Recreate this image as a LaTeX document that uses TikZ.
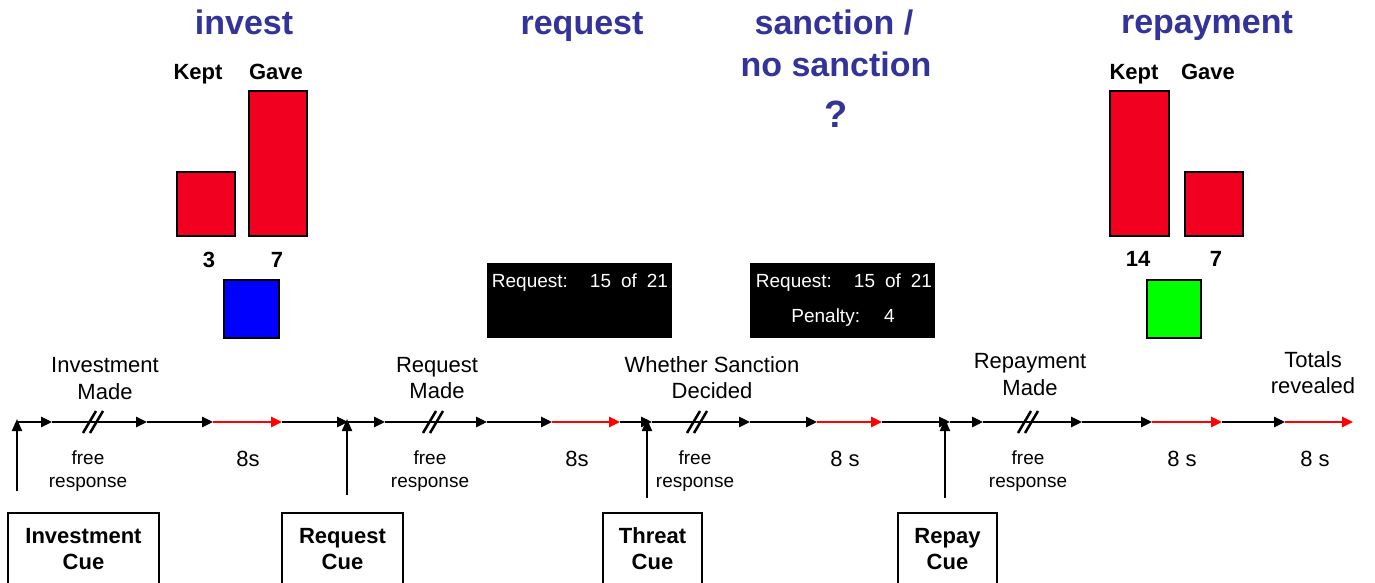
\documentclass[tikz,border=0pt]{standalone}
\usepackage{fontspec}
\setmainfont{Liberation Sans}
\usetikzlibrary{arrows.meta}
\definecolor{barred}{RGB}{242,0,32}
\definecolor{titleblue}{RGB}{51,51,153}
\definecolor{sqblue}{RGB}{0,0,255}
\definecolor{sqgreen}{RGB}{0,255,0}
\begin{document}
\begin{tikzpicture}[x=1pt,y=-1pt,
 tl/.style={line width=2.5pt,-{Triangle[length=11pt,width=10pt]}},
 tlred/.style={tl,draw=red,color=red},
 uparr/.style={line width=2pt,-{Triangle[length=12pt,width=10pt]}},
 brk/.style={line width=2.5pt},
 ttl/.style={font=\fontsize{34}{40}\selectfont\bfseries, text=titleblue, anchor=base, inner sep=0pt},
 lab/.style={font=\fontsize{22}{26}\selectfont, anchor=base, inner sep=0pt},
 smalllab/.style={font=\fontsize{19}{23}\selectfont, anchor=base, inner sep=0pt},
 blab/.style={font=\fontsize{22}{26}\selectfont\bfseries, anchor=base, inner sep=0pt},
 scrtext/.style={font=\fontsize{19}{23}\selectfont, text=white, anchor=base, inner sep=0pt},
 bar/.style={draw=black, fill=barred, line width=1.5pt, inner sep=0pt},
 sq/.style={draw=black, line width=1.5pt, inner sep=0pt},
 screen/.style={fill=black, inner sep=0pt, minimum width=185pt, minimum height=75pt},
 cuebox/.style={draw=black, line width=2pt, fill=white, inner sep=0pt, minimum height=87pt},
]
\useasboundingbox (0,0) rectangle (1375,583);
\clip (0,0) rectangle (1375,583);

% titles
\node[ttl] (t1) at (244,35) {invest};
\node[ttl] (t2) at (582,35) {request};
\node[ttl] (t3) at (834,35) {sanction /};
\node[ttl] (t4) at (836,77) {no sanction};
\node[ttl, font=\fontsize{38}{40}\selectfont\bfseries] (t5) at (836,128) {?};
\node[ttl] (t6) at (1207,34) {repayment};

% invest bars
\node[blab] (k1) at (198,80) {Kept};
\node[blab] (g1) at (276,80) {Gave};
\node[bar, minimum width=58pt, minimum height=64pt] (kb1) at (206,204) {};
\node[bar, minimum width=58pt, minimum height=145pt] (gb1) at (278,163.5) {};
\node[blab] (n1) at (209,267) {3};
\node[blab] (n2) at (277,267) {7};
\node[sq, fill=sqblue, minimum width=55pt, minimum height=58pt] (bsq) at (251.5,309) {};

% repayment bars
\node[blab] (k2) at (1134,80) {Kept};
\node[blab] (g2) at (1208,80) {Gave};
\node[bar, minimum width=59pt, minimum height=145pt] (kb2) at (1139.5,163.5) {};
\node[bar, minimum width=58pt, minimum height=64pt] (gb2) at (1214,204) {};
\node[blab] (n3) at (1138,266) {14};
\node[blab] (n4) at (1216,266) {7};
\node[sq, fill=sqgreen, minimum width=54pt, minimum height=58pt] (gsq) at (1174,309) {};

% screens
\node[screen] (s1) at (579.5,300.5) {};
\node[scrtext] (s1a) at (580,287) {Request:\hspace{22pt}15\hspace{10pt}of\hspace{10pt}21};
\node[screen] (s2) at (842.5,300.5) {};
\node[scrtext] (s2a) at (844,287) {Request:\hspace{22pt}15\hspace{10pt}of\hspace{10pt}21};
\node[scrtext] (s2b) at (843,322) {Penalty:\hspace{24pt}4};

% labels above timeline
\node[lab] (l1a) at (105,372) {Investment};
\node[lab] (l1b) at (105,399) {Made};
\node[lab] (l2a) at (437,372) {Request};
\node[lab] (l2b) at (437,398) {Made};
\node[lab] (l3a) at (712,372) {Whether Sanction};
\node[lab] (l3b) at (712,398) {Decided};
\node[lab] (l4a) at (1030,368) {Repayment};
\node[lab] (l4b) at (1030,395) {Made};
\node[lab] (l5a) at (1313,367) {Totals};
\node[lab] (l5b) at (1313,393) {revealed};

% labels below timeline
\node[smalllab] (f1a) at (88,464) {free};
\node[smalllab] (f1b) at (88,487) {response};
\node[smalllab] (f2a) at (430,464) {free};
\node[smalllab] (f2b) at (430,487) {response};
\node[smalllab] (f3a) at (695,464) {free};
\node[smalllab] (f3b) at (695,487) {response};
\node[smalllab] (f4a) at (1028,464) {free};
\node[smalllab] (f4b) at (1028,487) {response};
\node[lab] (e1) at (248,466) {8s};
\node[lab] (e2) at (577,466) {8s};
\node[lab] (e3) at (845,466) {8 s};
\node[lab] (e4) at (1182,466) {8 s};
\node[lab] (e5) at (1315,466) {8 s};

% timeline points
\foreach \n/\x in {0/17,1/52,2/147,3/213,4/282,5/348,6/385,7/487,8/552,9/620,10/652,11/750,12/817,13/882,14/950,15/983,16/1082,17/1152,18/1222,19/1285,20/1353}
  \coordinate (a\n) at (\x,422);

% timeline arrows
\draw[tl] (a0) -- (a1);
\draw[tl] (a1) -- (a2);
\draw[tl] (a2) -- (a3);
\draw[tlred] (a3) -- (a4);
\draw[tl] (a4) -- (a5);
\draw[tl] (a5) -- (a6);
\draw[tl] (a6) -- (a7);
\draw[tl] (a7) -- (a8);
\draw[tlred] (a8) -- (a9);
\draw[tl] (a9) -- (a10);
\draw[tl] (a10) -- (a11);
\draw[tl] (a11) -- (a12);
\draw[tlred] (a12) -- (a13);
\draw[tl] (a13) -- (a14);
\draw[tl] (a14) -- (a15);
\draw[tl] (a15) -- (a16);
\draw[tl] (a16) -- (a17);
\draw[tlred] (a17) -- (a18);
\draw[tl] (a18) -- (a19);
\draw[tlred] (a19) -- (a20);

% break marks
\foreach \c in {93,433,697,1028}{
  \draw[brk] (\c-10,433) -- (\c+3,411);
  \draw[brk] (\c-3,433) -- (\c+10,411);
}

% cue arrows
\coordinate (u0) at (17,491);  \coordinate (v0) at (17,419);
\coordinate (u1) at (347,495); \coordinate (v1) at (347,419);
\coordinate (u2) at (647,498); \coordinate (v2) at (647,419);
\coordinate (u3) at (945,498); \coordinate (v3) at (945,419);
\draw[uparr] (u0) -- (v0);
\draw[uparr] (u1) -- (v1);
\draw[uparr] (u2) -- (v2);
\draw[uparr] (u3) -- (v3);

% cue boxes
\node[cuebox, minimum width=151pt] (c1) at (83.5,556.5) {};
\node[blab] (c1a) at (83.5,543) {Investment};
\node[blab] (c1b) at (83.5,569) {Cue};
\node[cuebox, minimum width=121pt] (c2) at (342.5,556.5) {};
\node[blab] (c2a) at (342.5,543) {Request};
\node[blab] (c2b) at (342.5,569) {Cue};
\node[cuebox, minimum width=99pt] (c3) at (652.5,556.5) {};
\node[blab] (c3a) at (652.5,543) {Threat};
\node[blab] (c3b) at (652.5,569) {Cue};
\node[cuebox, minimum width=99pt] (c4) at (947.5,556.5) {};
\node[blab] (c4a) at (947.5,543) {Repay};
\node[blab] (c4b) at (947.5,569) {Cue};
\end{tikzpicture}
\end{document}
